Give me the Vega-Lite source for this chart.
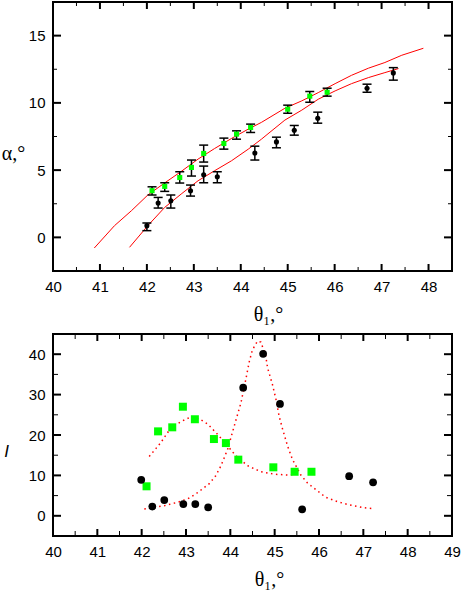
{
  "$schema": "https://vega.github.io/schema/vega-lite/v6.json",
  "background": "white",
  "padding": {"left": 0, "top": 1, "right": 20, "bottom": 0},
  "spacing": 8,
  "config": {
    "view": {"stroke": "black", "strokeWidth": 2},
    "axis": {
      "domain": false,
      "grid": false,
      "ticks": false,
      "labelFont": "Liberation Sans",
      "labelFontSize": 15,
      "labelColor": "black",
      "labelFlush": false,
      "labelOverlap": false,
      "labelPadding": 8,
      "format": "d",
      "titleColor": "black",
      "titleFontWeight": "normal"
    },
    "tick": {"color": "black", "thickness": 1.5, "opacity": 1}
  },
  "datasets": {
    "alphaPoints": [
      {"series": "green", "theta": 42.11, "alpha": 3.47, "lo": 3.15, "hi": 3.76},
      {"series": "green", "theta": 42.38, "alpha": 3.79, "lo": 3.42, "hi": 4.06},
      {"series": "green", "theta": 42.70, "alpha": 4.45, "lo": 4.04, "hi": 4.88},
      {"series": "green", "theta": 42.95, "alpha": 5.20, "lo": 4.56, "hi": 5.75},
      {"series": "green", "theta": 43.21, "alpha": 6.24, "lo": 5.60, "hi": 6.86},
      {"series": "green", "theta": 43.64, "alpha": 6.98, "lo": 6.56, "hi": 7.38},
      {"series": "green", "theta": 43.91, "alpha": 7.68, "lo": 7.30, "hi": 7.92},
      {"series": "green", "theta": 44.21, "alpha": 8.17, "lo": 7.80, "hi": 8.42},
      {"series": "green", "theta": 45.00, "alpha": 9.53, "lo": 9.23, "hi": 9.83},
      {"series": "green", "theta": 45.47, "alpha": 10.50, "lo": 10.05, "hi": 10.84},
      {"series": "green", "theta": 45.84, "alpha": 10.79, "lo": 10.50, "hi": 11.09},
      {"series": "black", "theta": 42.00, "alpha": 0.87, "lo": 0.50, "hi": 1.07},
      {"series": "black", "theta": 42.24, "alpha": 2.55, "lo": 2.18, "hi": 2.97},
      {"series": "black", "theta": 42.51, "alpha": 2.72, "lo": 2.18, "hi": 3.15},
      {"series": "black", "theta": 42.93, "alpha": 3.47, "lo": 3.07, "hi": 3.89},
      {"series": "black", "theta": 43.21, "alpha": 4.65, "lo": 4.06, "hi": 5.30},
      {"series": "black", "theta": 43.50, "alpha": 4.51, "lo": 4.06, "hi": 4.88},
      {"series": "black", "theta": 44.30, "alpha": 6.27, "lo": 5.75, "hi": 6.78},
      {"series": "black", "theta": 44.76, "alpha": 7.10, "lo": 6.66, "hi": 7.45},
      {"series": "black", "theta": 45.14, "alpha": 7.97, "lo": 7.60, "hi": 8.32},
      {"series": "black", "theta": 45.64, "alpha": 8.86, "lo": 8.49, "hi": 9.31},
      {"series": "black", "theta": 46.69, "alpha": 11.09, "lo": 10.79, "hi": 11.39},
      {"series": "black", "theta": 47.25, "alpha": 12.23, "lo": 11.69, "hi": 12.62}
    ],
    "alphaFit": [
      {"fit": "upper", "theta": 40.88, "alpha": -0.79},
      {"fit": "upper", "theta": 41.31, "alpha": 0.87},
      {"fit": "upper", "theta": 41.67, "alpha": 1.98},
      {"fit": "upper", "theta": 42.02, "alpha": 3.15},
      {"fit": "upper", "theta": 42.38, "alpha": 4.05},
      {"fit": "upper", "theta": 42.73, "alpha": 4.90},
      {"fit": "upper", "theta": 43.09, "alpha": 5.82},
      {"fit": "upper", "theta": 43.44, "alpha": 6.60},
      {"fit": "upper", "theta": 43.80, "alpha": 7.35},
      {"fit": "upper", "theta": 44.16, "alpha": 8.05},
      {"fit": "upper", "theta": 44.44, "alpha": 8.55},
      {"fit": "upper", "theta": 44.94, "alpha": 9.60},
      {"fit": "upper", "theta": 45.30, "alpha": 10.15},
      {"fit": "upper", "theta": 45.65, "alpha": 10.76},
      {"fit": "upper", "theta": 46.01, "alpha": 11.43},
      {"fit": "upper", "theta": 46.36, "alpha": 12.05},
      {"fit": "upper", "theta": 46.72, "alpha": 12.58},
      {"fit": "upper", "theta": 47.07, "alpha": 13.00},
      {"fit": "upper", "theta": 47.43, "alpha": 13.54},
      {"fit": "upper", "theta": 47.89, "alpha": 14.06},
      {"fit": "lower", "theta": 41.63, "alpha": -0.74},
      {"fit": "lower", "theta": 42.02, "alpha": 0.87},
      {"fit": "lower", "theta": 42.38, "alpha": 2.23},
      {"fit": "lower", "theta": 42.73, "alpha": 3.22},
      {"fit": "lower", "theta": 43.09, "alpha": 4.21},
      {"fit": "lower", "theta": 43.44, "alpha": 4.95},
      {"fit": "lower", "theta": 43.80, "alpha": 5.69},
      {"fit": "lower", "theta": 44.16, "alpha": 6.56},
      {"fit": "lower", "theta": 44.44, "alpha": 7.30},
      {"fit": "lower", "theta": 44.58, "alpha": 7.70},
      {"fit": "lower", "theta": 44.94, "alpha": 8.72},
      {"fit": "lower", "theta": 45.30, "alpha": 9.46},
      {"fit": "lower", "theta": 45.65, "alpha": 10.27},
      {"fit": "lower", "theta": 46.01, "alpha": 10.89},
      {"fit": "lower", "theta": 46.36, "alpha": 11.43},
      {"fit": "lower", "theta": 46.72, "alpha": 11.88},
      {"fit": "lower", "theta": 47.07, "alpha": 12.25},
      {"fit": "lower", "theta": 47.36, "alpha": 12.55}
    ],
    "alphaTicksX": [
      {"v": 40.5, "kind": "minor"}, {"v": 41, "kind": "major"},
      {"v": 41.5, "kind": "minor"}, {"v": 42, "kind": "major"},
      {"v": 42.5, "kind": "minor"}, {"v": 43, "kind": "major"},
      {"v": 43.5, "kind": "minor"}, {"v": 44, "kind": "major"},
      {"v": 44.5, "kind": "minor"}, {"v": 45, "kind": "major"},
      {"v": 45.5, "kind": "minor"}, {"v": 46, "kind": "major"},
      {"v": 46.5, "kind": "minor"}, {"v": 47, "kind": "major"},
      {"v": 47.5, "kind": "minor"}, {"v": 48, "kind": "major"}
    ],
    "alphaTicksY": [
      {"v": 0, "kind": "major"}, {"v": 2.5, "kind": "minor"},
      {"v": 5, "kind": "major"}, {"v": 7.5, "kind": "minor"},
      {"v": 10, "kind": "major"}, {"v": 12.5, "kind": "minor"},
      {"v": 15, "kind": "major"}
    ],
    "intTicksX": [
      {"v": 40.5, "kind": "minor"}, {"v": 41, "kind": "major"},
      {"v": 41.5, "kind": "minor"}, {"v": 42, "kind": "major"},
      {"v": 42.5, "kind": "minor"}, {"v": 43, "kind": "major"},
      {"v": 43.5, "kind": "minor"}, {"v": 44, "kind": "major"},
      {"v": 44.5, "kind": "minor"}, {"v": 45, "kind": "major"},
      {"v": 45.5, "kind": "minor"}, {"v": 46, "kind": "major"},
      {"v": 46.5, "kind": "minor"}, {"v": 47, "kind": "major"},
      {"v": 47.5, "kind": "minor"}, {"v": 48, "kind": "major"},
      {"v": 48.5, "kind": "minor"}
    ],
    "intTicksY": [
      {"v": 0, "kind": "major"}, {"v": 5, "kind": "minor"},
      {"v": 10, "kind": "major"}, {"v": 15, "kind": "minor"},
      {"v": 20, "kind": "major"}, {"v": 25, "kind": "minor"},
      {"v": 30, "kind": "major"}, {"v": 35, "kind": "minor"},
      {"v": 40, "kind": "major"}
    ],
    "intGreen": [
      {"theta": 42.11, "I": 7.3},
      {"theta": 42.37, "I": 20.9},
      {"theta": 42.69, "I": 21.9},
      {"theta": 42.93, "I": 27.0},
      {"theta": 43.20, "I": 23.9},
      {"theta": 43.63, "I": 19.0},
      {"theta": 43.90, "I": 18.0},
      {"theta": 44.18, "I": 13.9},
      {"theta": 44.97, "I": 12.0},
      {"theta": 45.45, "I": 10.9},
      {"theta": 45.83, "I": 10.9}
    ],
    "intBlack": [
      {"theta": 41.99, "I": 8.9},
      {"theta": 42.24, "I": 2.3},
      {"theta": 42.51, "I": 3.9},
      {"theta": 42.94, "I": 2.9},
      {"theta": 43.21, "I": 2.9},
      {"theta": 43.50, "I": 2.1},
      {"theta": 44.29, "I": 31.7},
      {"theta": 44.74, "I": 40.1},
      {"theta": 45.12, "I": 27.7},
      {"theta": 45.62, "I": 1.6},
      {"theta": 46.68, "I": 9.8},
      {"theta": 47.22, "I": 8.3}
    ],
    "intFit": [
      {"fit": "green", "theta": 42.17, "I": 14.7},
      {"fit": "green", "theta": 42.28, "I": 16.1},
      {"fit": "green", "theta": 42.43, "I": 18.1},
      {"fit": "green", "theta": 42.66, "I": 21.8},
      {"fit": "green", "theta": 42.92, "I": 23.5},
      {"fit": "green", "theta": 43.11, "I": 24.5},
      {"fit": "green", "theta": 43.30, "I": 24.0},
      {"fit": "green", "theta": 43.49, "I": 22.7},
      {"fit": "green", "theta": 43.71, "I": 20.2},
      {"fit": "green", "theta": 43.94, "I": 17.3},
      {"fit": "green", "theta": 44.12, "I": 14.9},
      {"fit": "green", "theta": 44.39, "I": 12.4},
      {"fit": "green", "theta": 44.69, "I": 10.9},
      {"fit": "green", "theta": 44.99, "I": 10.3},
      {"fit": "green", "theta": 45.29, "I": 10.1},
      {"fit": "green", "theta": 45.42, "I": 10.2},
      {"fit": "black", "theta": 42.06, "I": 1.7},
      {"fit": "black", "theta": 42.20, "I": 1.9},
      {"fit": "black", "theta": 42.51, "I": 2.5},
      {"fit": "black", "theta": 42.81, "I": 3.35},
      {"fit": "black", "theta": 43.04, "I": 4.2},
      {"fit": "black", "theta": 43.22, "I": 5.4},
      {"fit": "black", "theta": 43.52, "I": 7.9},
      {"fit": "black", "theta": 43.67, "I": 9.9},
      {"fit": "black", "theta": 43.79, "I": 12.4},
      {"fit": "black", "theta": 43.94, "I": 16.5},
      {"fit": "black", "theta": 44.09, "I": 22.3},
      {"fit": "black", "theta": 44.24, "I": 28.0},
      {"fit": "black", "theta": 44.35, "I": 33.8},
      {"fit": "black", "theta": 44.43, "I": 38.3},
      {"fit": "black", "theta": 44.50, "I": 41.1},
      {"fit": "black", "theta": 44.61, "I": 43.2},
      {"fit": "black", "theta": 44.69, "I": 43.0},
      {"fit": "black", "theta": 44.80, "I": 39.5},
      {"fit": "black", "theta": 44.84, "I": 36.6},
      {"fit": "black", "theta": 44.95, "I": 32.5},
      {"fit": "black", "theta": 45.03, "I": 28.8},
      {"fit": "black", "theta": 45.10, "I": 24.7},
      {"fit": "black", "theta": 45.18, "I": 21.4},
      {"fit": "black", "theta": 45.29, "I": 17.3},
      {"fit": "black", "theta": 45.40, "I": 14.0},
      {"fit": "black", "theta": 45.59, "I": 10.1},
      {"fit": "black", "theta": 45.74, "I": 8.1},
      {"fit": "black", "theta": 45.95, "I": 6.3},
      {"fit": "black", "theta": 46.15, "I": 4.6},
      {"fit": "black", "theta": 46.42, "I": 3.5},
      {"fit": "black", "theta": 46.68, "I": 2.7},
      {"fit": "black", "theta": 47.02, "I": 2.0},
      {"fit": "black", "theta": 47.20, "I": 1.8}
    ]
  },
  "vconcat": [
    {
      "width": 399,
      "height": 269,
      "layer": [
        {
          "data": {"name": "alphaFit"},
          "mark": {"type": "line", "color": "#ff0000", "strokeWidth": 1},
          "encoding": {
            "x": {
              "field": "theta", "type": "quantitative",
              "scale": {"domain": [40, 48.5], "nice": false, "zero": false},
              "axis": {
                "values": [40, 41, 42, 43, 44, 45, 46, 47, 48],
                "title": "θ₁,°",
                "titleFont": "Liberation Serif",
                "titleFontSize": 20,
                "titleX": 215,
                "titlePadding": 10
              }
            },
            "y": {
              "field": "alpha", "type": "quantitative",
              "scale": {"domain": [-2.5, 17.5], "nice": false, "zero": false},
              "axis": {
                "values": [0, 5, 10, 15],
                "title": "α,°",
                "titleFont": "Liberation Serif",
                "titleFontSize": 20,
                "titleAngle": 0,
                "titleAlign": "center",
                "titleBaseline": "middle",
                "titleX": -40,
                "titleY": 151
              }
            },
            "detail": {"field": "fit"}
          }
        },
        {
          "data": {"name": "alphaTicksX"},
          "transform": [{"filter": "datum.kind === 'major'"}],
          "mark": {"type": "tick", "orient": "vertical", "size": 7, "thickness": 2, "yOffset": -3.5},
          "encoding": {"x": {"field": "v", "type": "quantitative"}, "y": {"datum": -2.5}}
        },
        {
          "data": {"name": "alphaTicksX"},
          "transform": [{"filter": "datum.kind === 'major'"}],
          "mark": {"type": "tick", "orient": "vertical", "size": 7, "thickness": 2, "yOffset": 3.5},
          "encoding": {"x": {"field": "v", "type": "quantitative"}, "y": {"datum": 17.5}}
        },
        {
          "data": {"name": "alphaTicksX"},
          "transform": [{"filter": "datum.kind === 'minor'"}],
          "mark": {"type": "tick", "orient": "vertical", "size": 4, "thickness": 1, "yOffset": -2},
          "encoding": {"x": {"field": "v", "type": "quantitative"}, "y": {"datum": -2.5}}
        },
        {
          "data": {"name": "alphaTicksX"},
          "transform": [{"filter": "datum.kind === 'minor'"}],
          "mark": {"type": "tick", "orient": "vertical", "size": 4, "thickness": 1, "yOffset": 2},
          "encoding": {"x": {"field": "v", "type": "quantitative"}, "y": {"datum": 17.5}}
        },
        {
          "data": {"name": "alphaTicksY"},
          "transform": [{"filter": "datum.kind === 'major'"}],
          "mark": {"type": "tick", "orient": "horizontal", "size": 8, "thickness": 2, "xOffset": 4},
          "encoding": {"x": {"datum": 40}, "y": {"field": "v", "type": "quantitative"}}
        },
        {
          "data": {"name": "alphaTicksY"},
          "transform": [{"filter": "datum.kind === 'major'"}],
          "mark": {"type": "tick", "orient": "horizontal", "size": 8, "thickness": 2, "xOffset": -4},
          "encoding": {"x": {"datum": 48.5}, "y": {"field": "v", "type": "quantitative"}}
        },
        {
          "data": {"name": "alphaTicksY"},
          "transform": [{"filter": "datum.kind === 'minor'"}],
          "mark": {"type": "tick", "orient": "horizontal", "size": 4, "thickness": 1, "xOffset": 2},
          "encoding": {"x": {"datum": 40}, "y": {"field": "v", "type": "quantitative"}}
        },
        {
          "data": {"name": "alphaTicksY"},
          "transform": [{"filter": "datum.kind === 'minor'"}],
          "mark": {"type": "tick", "orient": "horizontal", "size": 4, "thickness": 1, "xOffset": -2},
          "encoding": {"x": {"datum": 48.5}, "y": {"field": "v", "type": "quantitative"}}
        },
        {
          "data": {"name": "alphaPoints"},
          "mark": {"type": "rule", "color": "black", "strokeWidth": 1.5},
          "encoding": {
            "x": {"field": "theta", "type": "quantitative"},
            "y": {"field": "lo", "type": "quantitative"},
            "y2": {"field": "hi"}
          }
        },
        {
          "data": {"name": "alphaPoints"},
          "mark": {"type": "tick", "orient": "horizontal", "size": 9},
          "encoding": {
            "x": {"field": "theta", "type": "quantitative"},
            "y": {"field": "lo", "type": "quantitative"}
          }
        },
        {
          "data": {"name": "alphaPoints"},
          "mark": {"type": "tick", "orient": "horizontal", "size": 9},
          "encoding": {
            "x": {"field": "theta", "type": "quantitative"},
            "y": {"field": "hi", "type": "quantitative"}
          }
        },
        {
          "data": {"name": "alphaPoints"},
          "mark": {"type": "point", "filled": true, "opacity": 1, "size": 26},
          "encoding": {
            "x": {"field": "theta", "type": "quantitative"},
            "y": {"field": "alpha", "type": "quantitative"},
            "color": {"field": "series", "type": "nominal", "scale": {"domain": ["green", "black"], "range": ["#00ff00", "#000000"]}, "legend": null},
            "shape": {"field": "series", "type": "nominal", "scale": {"domain": ["green", "black"], "range": ["square", "circle"]}, "legend": null}
          }
        }
      ]
    },
    {
      "width": 399,
      "height": 202,
      "layer": [
        {
          "data": {"name": "intFit"},
          "mark": {"type": "line", "color": "#ff0000", "strokeWidth": 1.5, "strokeDash": [1.5, 3.5]},
          "encoding": {
            "x": {
              "field": "theta", "type": "quantitative",
              "scale": {"domain": [40, 49], "nice": false, "zero": false},
              "axis": {
                "values": [40, 41, 42, 43, 44, 45, 46, 47, 48, 49],
                "title": "θ₁,°",
                "titleFont": "Liberation Serif",
                "titleFontSize": 20,
                "titleX": 216,
                "titlePadding": 10
              }
            },
            "y": {
              "field": "I", "type": "quantitative",
              "scale": {"domain": [-5, 45], "nice": false, "zero": false},
              "axis": {
                "values": [0, 10, 20, 30, 40],
                "title": "I",
                "titleFont": "Liberation Sans",
                "titleFontStyle": "italic",
                "titleFontSize": 17,
                "titleAngle": 0,
                "titleAlign": "center",
                "titleBaseline": "middle",
                "titleX": -47,
                "titleY": 117
              }
            },
            "detail": {"field": "fit"}
          }
        },
        {
          "data": {"name": "intTicksX"},
          "transform": [{"filter": "datum.kind === 'major'"}],
          "mark": {"type": "tick", "orient": "vertical", "size": 7, "thickness": 2, "yOffset": -3.5},
          "encoding": {"x": {"field": "v", "type": "quantitative"}, "y": {"datum": -5}}
        },
        {
          "data": {"name": "intTicksX"},
          "transform": [{"filter": "datum.kind === 'major'"}],
          "mark": {"type": "tick", "orient": "vertical", "size": 7, "thickness": 2, "yOffset": 3.5},
          "encoding": {"x": {"field": "v", "type": "quantitative"}, "y": {"datum": 45}}
        },
        {
          "data": {"name": "intTicksX"},
          "transform": [{"filter": "datum.kind === 'minor'"}],
          "mark": {"type": "tick", "orient": "vertical", "size": 5, "thickness": 1, "yOffset": -2.5},
          "encoding": {"x": {"field": "v", "type": "quantitative"}, "y": {"datum": -5}}
        },
        {
          "data": {"name": "intTicksX"},
          "transform": [{"filter": "datum.kind === 'minor'"}],
          "mark": {"type": "tick", "orient": "vertical", "size": 5, "thickness": 1, "yOffset": 2.5},
          "encoding": {"x": {"field": "v", "type": "quantitative"}, "y": {"datum": 45}}
        },
        {
          "data": {"name": "intTicksY"},
          "transform": [{"filter": "datum.kind === 'major'"}],
          "mark": {"type": "tick", "orient": "horizontal", "size": 8, "thickness": 2, "xOffset": 4},
          "encoding": {"x": {"datum": 40}, "y": {"field": "v", "type": "quantitative"}}
        },
        {
          "data": {"name": "intTicksY"},
          "transform": [{"filter": "datum.kind === 'major'"}],
          "mark": {"type": "tick", "orient": "horizontal", "size": 8, "thickness": 2, "xOffset": -4},
          "encoding": {"x": {"datum": 49}, "y": {"field": "v", "type": "quantitative"}}
        },
        {
          "data": {"name": "intTicksY"},
          "transform": [{"filter": "datum.kind === 'minor'"}],
          "mark": {"type": "tick", "orient": "horizontal", "size": 5, "thickness": 1, "xOffset": 2.5},
          "encoding": {"x": {"datum": 40}, "y": {"field": "v", "type": "quantitative"}}
        },
        {
          "data": {"name": "intTicksY"},
          "transform": [{"filter": "datum.kind === 'minor'"}],
          "mark": {"type": "tick", "orient": "horizontal", "size": 5, "thickness": 1, "xOffset": -2.5},
          "encoding": {"x": {"datum": 49}, "y": {"field": "v", "type": "quantitative"}}
        },
        {
          "data": {"name": "intGreen"},
          "mark": {"type": "square", "color": "#00ff00", "opacity": 1, "size": 64},
          "encoding": {
            "x": {"field": "theta", "type": "quantitative"},
            "y": {"field": "I", "type": "quantitative"}
          }
        },
        {
          "data": {"name": "intBlack"},
          "mark": {"type": "circle", "color": "#000000", "opacity": 1, "size": 60},
          "encoding": {
            "x": {"field": "theta", "type": "quantitative"},
            "y": {"field": "I", "type": "quantitative"}
          }
        }
      ]
    }
  ]
}
